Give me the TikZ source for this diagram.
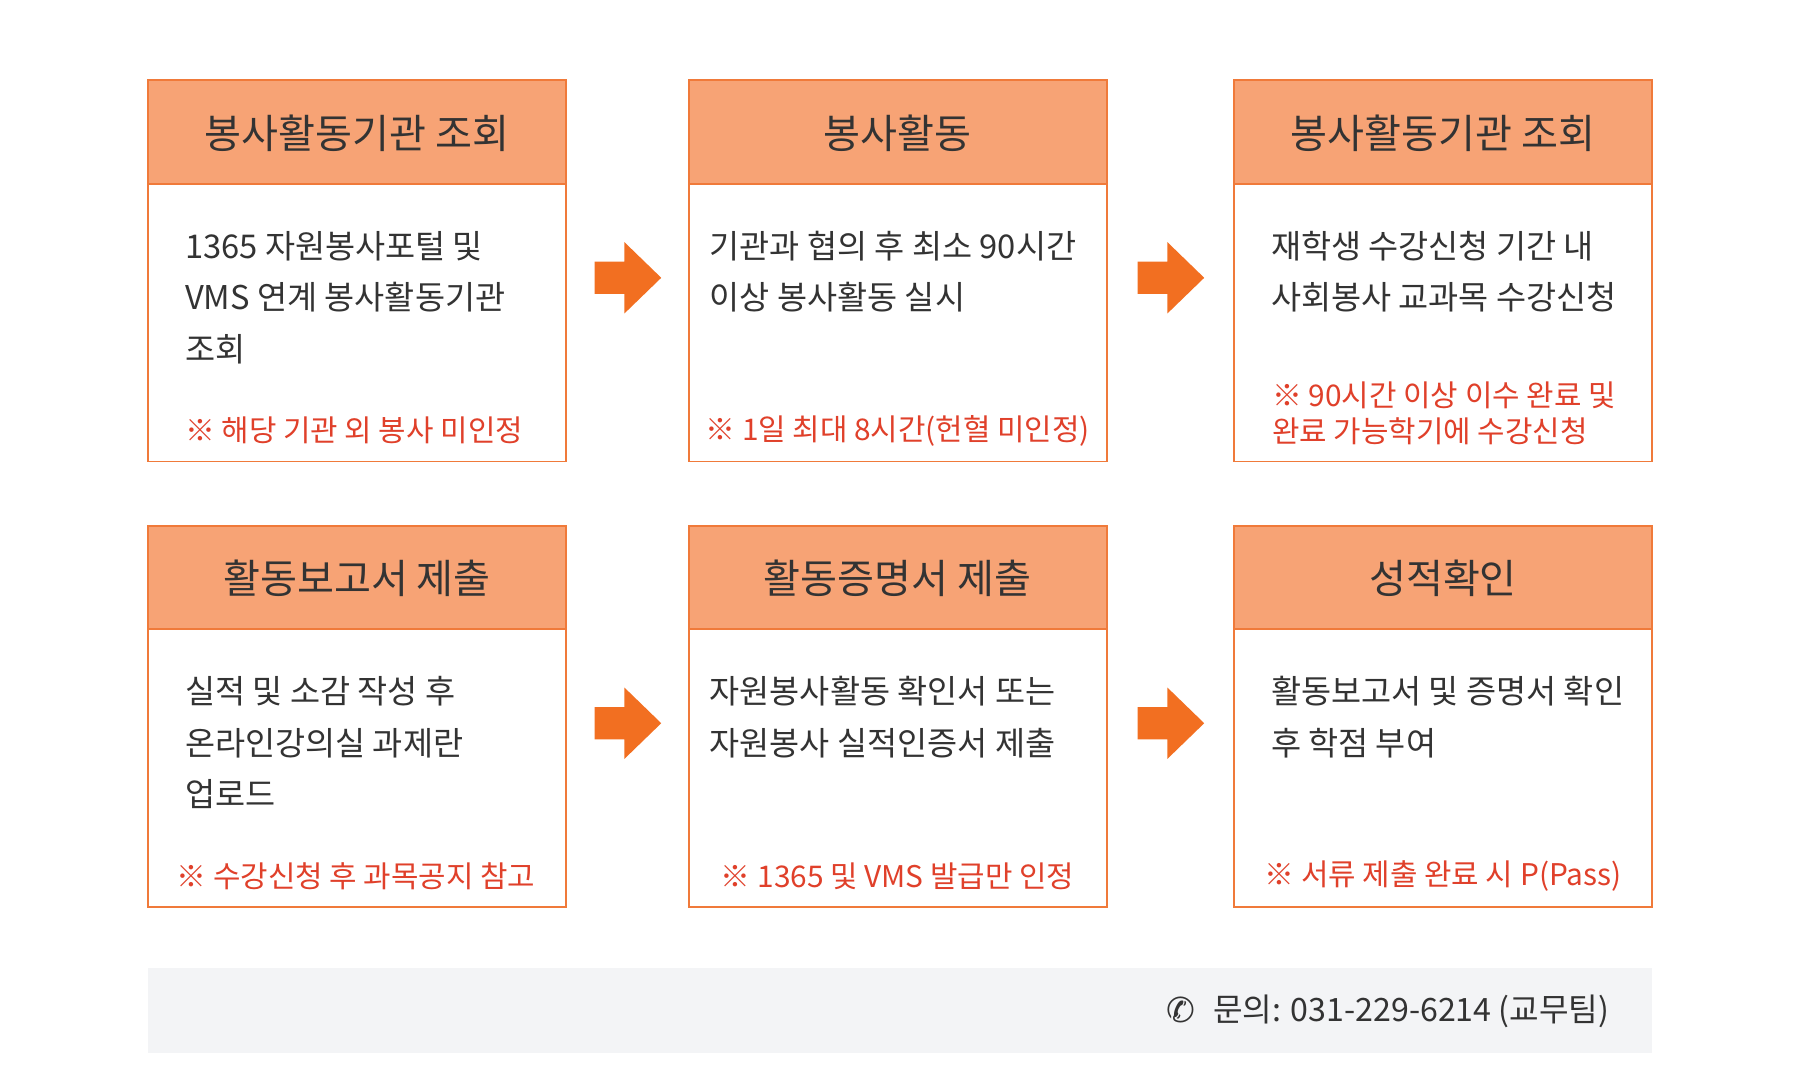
\documentclass[tikz,border=0pt]{standalone}
\usepackage{fontspec}
\setmainfont{Noto Sans CJK KR}
\newfontfamily\dv{DejaVu Sans}
\definecolor{hdr}{HTML}{F7A375}
\definecolor{brd}{HTML}{F07A3A}
\definecolor{arr}{HTML}{F26F21}
\definecolor{note}{HTML}{E0402A}
\definecolor{txt}{HTML}{333333}
\definecolor{bar}{HTML}{F3F4F6}
\begin{document}
\begin{tikzpicture}[x=1pt,y=-1pt,
  card/.style={draw=brd,line width=1.5pt,fill=white},
  head/.style={draw=brd,line width=1.5pt,fill=hdr},
  htxt/.style={font=\fontsize{35}{40}\selectfont,text=txt,inner sep=0},
  btxt/.style={font=\fontsize{28.5}{45}\selectfont,text=txt,inner sep=0,align=left,anchor=north west},
  ntxt/.style={font=\fontsize{26}{31}\selectfont,text=note,inner sep=0,align=left},
  arrowsh/.style={fill=arr,draw=none}]
\useasboundingbox (0,0) rectangle (1568,937);
\fill[white] (0,0) rectangle (1568,937);
\foreach \x/\y in {129/70,600/70,1075/70,129/458,600/458,1075/458}{
  \draw[card] (\x,\y) rectangle ++(364,332);
  \draw[head] (\x,\y) rectangle ++(364,90);
}
\node[htxt] (h1) at (311,116) {봉사활동기관 조회};
\node[htxt] (h2) at (782,116) {봉사활동};
\node[htxt] (h3) at (1257,116) {봉사활동기관 조회};
\node[htxt] (h4) at (311,504) {활동보고서 제출};
\node[htxt] (h5) at (782,504) {활동증명서 제출};
\node[htxt] (h6) at (1257,504) {성적확인};
\node[btxt] (t1) at (161,201) {1365 자원봉사포털 및\\VMS 연계 봉사활동기관\\조회};
\node[btxt] (t2) at (618,201) {기관과 협의 후 최소 90시간\\이상 봉사활동 실시};
\node[btxt] (t3) at (1107,201) {재학생 수강신청 기간 내\\사회봉사 교과목 수강신청};
\node[btxt] (t4) at (161,589) {실적 및 소감 작성 후\\온라인강의실 과제란\\업로드};
\node[btxt] (t5) at (618,589) {자원봉사활동 확인서 또는\\자원봉사 실적인증서 제출};
\node[btxt] (t6) at (1107,589) {활동보고서 및 증명서 확인\\후 학점 부여};
\node[ntxt,anchor=west] (n1) at (161,375) {※ 해당 기관 외 봉사 미인정};
\node[ntxt] (n2) at (782,375) {※ 1일 최대 8시간(헌혈 미인정)};
\node[ntxt,anchor=west] (n3) at (1108,360) {※ 90시간 이상 이수 완료 및\\완료 가능학기에 수강신청};
\node[ntxt] (n4) at (310,763) {※ 수강신청 후 과목공지 참고};
\node[ntxt] (n5) at (782,763) {※ 1365 및 VMS 발급만 인정};
\node[ntxt] (n6) at (1257,763) {※ 서류 제출 완료 시 P(Pass)};
\foreach \ax/\ay in {518/242,991/242,518/630,991/630}{
  \fill[arrowsh] (\ax,\ay-14) -- (\ax+26,\ay-14) -- (\ax+26,\ay-31) -- (\ax+58,\ay) -- (\ax+26,\ay+31) -- (\ax+26,\ay+14) -- (\ax,\ay+14) -- cycle;
}
\fill[bar] (129,843) rectangle (1439,917);
\node[font=\dv\fontsize{30}{32}\selectfont,text=txt,inner sep=0] (ph) at (1029,880) {✆};
\node[font=\fontsize{28}{30}\selectfont,text=txt,inner sep=0,anchor=east] (q) at (1402,881) {문의: 031-229-6214 (교무팀)};
\end{tikzpicture}
\end{document}
